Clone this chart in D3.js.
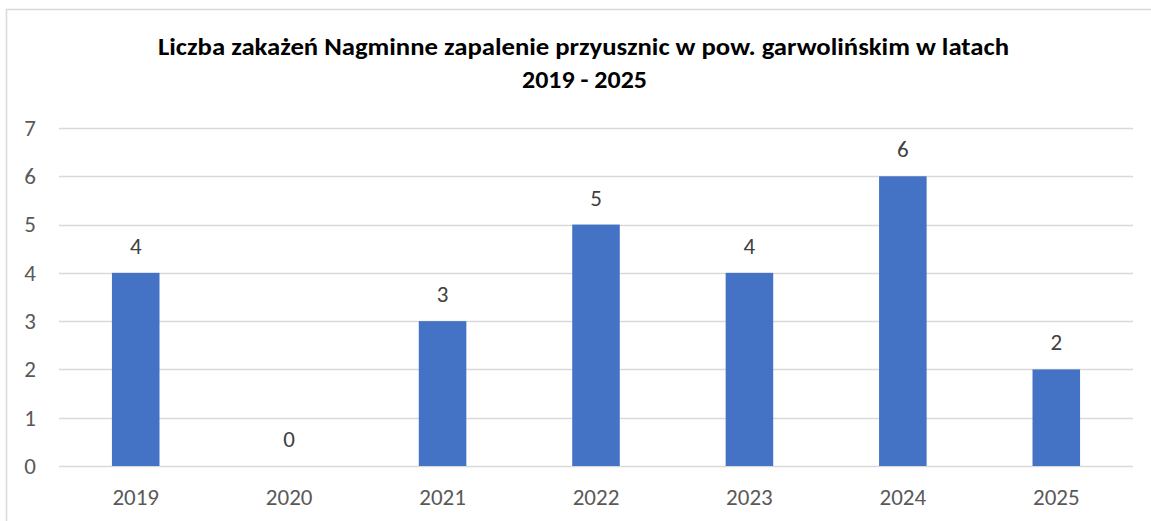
<!DOCTYPE html>
<html>
<head>
<meta charset="utf-8">
<script src="https://cdn.jsdelivr.net/npm/d3@7"></script>
<style>
  body { margin: 0; background: #fff; }
  svg { display: block; font-family: Carlito, Calibri, "Liberation Sans", sans-serif; }
</style>
</head>
<body>
<script>
// Screen dimensions.
const WIDTH = 1151;
const HEIGHT = 521;
const FONT = 'Carlito, Calibri, "Liberation Sans", sans-serif';

// Data
const years = ["2019", "2020", "2021", "2022", "2023", "2024", "2025"];
const cases = [4, 0, 3, 5, 4, 6, 2];
const yTicks = [0, 1, 2, 3, 4, 5, 6, 7];
const titleLines = ["Liczba zakażeń Nagminne zapalenie przyusznic w pow. garwolińskim w latach", "2019 - 2025"];

const margin = { top: 128, right: 18, bottom: 55, left: 59 };

const svg = d3.select("body").append("svg").attr("width", WIDTH).attr("height", HEIGHT);

// Chart border (only top and left visible in the crop)
svg.append("rect")
  .attr("x", 6.5).attr("y", 9.5)
  .attr("width", WIDTH + 20).attr("height", HEIGHT + 20)
  .attr("fill", "none").attr("stroke", "#d9d9d9").attr("stroke-width", 1.5);

// Title
svg.append("text")
  .attr("x", 583.5).attr("y", 55)
  .attr("text-anchor", "middle")
  .attr("font-size", 24).attr("font-weight", "bold").attr("fill", "#000")
  .attr("textLength", 851).attr("lengthAdjust", "spacingAndGlyphs")
  .text(titleLines[0]);
svg.append("text")
  .attr("x", 584.5).attr("y", 88)
  .attr("text-anchor", "middle")
  .attr("font-size", 24).attr("font-weight", "bold").attr("fill", "#000")
  .attr("textLength", 125).attr("lengthAdjust", "spacingAndGlyphs")
  .text(titleLines[1]);

// Scales
const x = d3.scaleBand().domain(years)
  .range([margin.left, WIDTH - margin.right])
  .paddingInner(0.69).paddingOuter(0.345);
const y = d3.scaleLinear().domain([0, 7]).range([HEIGHT - margin.bottom, margin.top]);

// Gridlines
svg.append("g").selectAll("line").data(yTicks).enter().append("line")
  .attr("x1", margin.left).attr("x2", WIDTH - margin.right)
  .attr("y1", d => Math.round(y(d)) + 0.5).attr("y2", d => Math.round(y(d)) + 0.5)
  .attr("stroke", "#d9d9d9").attr("stroke-width", 1.5);

// Y axis labels
const yAxis = svg.append("g")
  .attr("transform", `translate(${margin.left},0)`)
  .call(d3.axisLeft(y).tickValues(yTicks).tickSize(0).tickPadding(23).tickFormat(d3.format("d")))
  .attr("font-family", FONT).attr("font-size", 23);
yAxis.select(".domain").remove();
yAxis.selectAll("text").attr("fill", "#595959");

// X axis labels
const xAxis = svg.append("g")
  .attr("transform", `translate(0,${HEIGHT - margin.bottom})`)
  .call(d3.axisBottom(x).tickSize(0).tickPadding(23))
  .attr("font-family", FONT).attr("font-size", 23);
xAxis.select(".domain").remove();
xAxis.selectAll("text").attr("fill", "#595959");

// Bars
svg.append("g").selectAll("rect").data(cases).enter().append("rect")
  .attr("x", (d, i) => x(years[i]))
  .attr("y", d => y(d))
  .attr("width", x.bandwidth())
  .attr("height", d => y(0) - y(d))
  .attr("fill", "#4472c4");

// Value labels
svg.append("g").selectAll("text").data(cases).enter().append("text")
  .attr("x", (d, i) => x(years[i]) + x.bandwidth() / 2)
  .attr("y", d => y(d) - 19)
  .attr("text-anchor", "middle")
  .attr("font-size", 23).attr("fill", "#404040")
  .text(d => d);
</script>
</body>
</html>
